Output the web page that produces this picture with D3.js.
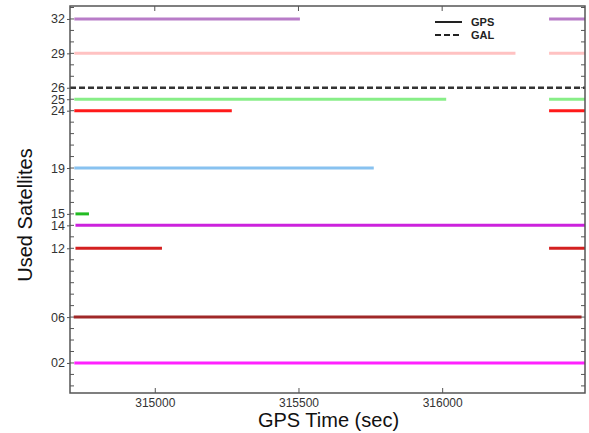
<!DOCTYPE html>
<html>
<head>
<meta charset="utf-8">
<script src="https://cdn.jsdelivr.net/npm/d3@7"></script>
<style>
body { margin:0; background:#fff; }
svg { font-family: Arial, "Liberation Sans", sans-serif; }
</style>
</head>
<body>
<svg id="chart"></svg>
<script>
// satellites shown on the y axis, top to bottom
var satIds = [32, 29, 26, 25, 24, 19, 15, 14, 12, 6, 2];
var satSystem = ["GPS","GPS","GAL","GPS","GPS","GPS","GPS","GPS","GPS","GPS","GPS"];
var satColors = ["#b87cc8","#ffc2c2","#333333","#88ee88","#ff1a1a","#88c2f0",
                 "#22bb22","#cc22dd","#d42020","#a02828","#ff22ff"];
// tracked periods [start, end] in GPS seconds
var satArcs = [
    [[314720, 315505], [316372, 316497]],
    [[314720, 316255], [316372, 316497]],
    [[314705, 316497]],
    [[314720, 316014], [316372, 316497]],
    [[314720, 315268], [316372, 316497]],
    [[314720, 315762]],
    [[314724, 314771]],
    [[314724, 316497]],
    [[314724, 315025], [316372, 316497]],
    [[314718, 316485]],
    [[314720, 316497]]
];
var xTicks = [315000, 315500, 316000];
var legendNames = ["GPS", "GAL"];

var screen = {width:589, height:433};
var plot = {left:70, right:585, top:6, bottom:393};

var svg = d3.select("#chart")
    .attr("width", screen.width)
    .attr("height", screen.height);

var xScale = d3.scaleLinear()
    .domain([314705, 316497])
    .range([plot.left, plot.right]);
var yScale = d3.scaleLinear()
    .domain([-0.62, 33.13])
    .range([plot.bottom, plot.top]);

var axisColor = "#555";

// minor ticks every unit, inside the frame
var minor = d3.range(0, 34);
svg.append("g").selectAll("line.ml")
    .data(minor).enter().append("line")
    .attr("x1", plot.left).attr("x2", plot.left + 4)
    .attr("y1", function(d){ return yScale(d); })
    .attr("y2", function(d){ return yScale(d); })
    .attr("stroke", axisColor).attr("stroke-width", 1);
svg.append("g").selectAll("line.mr")
    .data(minor).enter().append("line")
    .attr("x1", plot.right).attr("x2", plot.right - 4)
    .attr("y1", function(d){ return yScale(d); })
    .attr("y2", function(d){ return yScale(d); })
    .attr("stroke", axisColor).attr("stroke-width", 1);

// left axis labels at satellite ids
var yAxis = d3.axisLeft(yScale)
    .tickValues(satIds)
    .tickSize(3)
    .tickPadding(2)
    .tickFormat(function(d){ return d3.format("02d")(d); });
var gy = svg.append("g")
    .attr("transform", "translate(" + plot.left + ",0)")
    .call(yAxis);
gy.select(".domain").remove();
gy.selectAll("line").attr("stroke", axisColor);
gy.selectAll("text").attr("font-size", 12.5).attr("fill", "#333");

// bottom axis
var xAxis = d3.axisBottom(xScale)
    .tickValues(xTicks)
    .tickSize(-5)
    .tickPadding(5)
    .tickFormat(d3.format("d"));
var gx = svg.append("g")
    .attr("transform", "translate(0," + plot.bottom + ")")
    .call(xAxis);
gx.select(".domain").remove();
gx.selectAll("line").attr("stroke", axisColor);
gx.selectAll("text").attr("font-size", 12).attr("fill", "#333");

// top ticks
svg.append("g").selectAll("line")
    .data(xTicks).enter().append("line")
    .attr("x1", function(d){ return xScale(d); })
    .attr("x2", function(d){ return xScale(d); })
    .attr("y1", plot.top).attr("y2", plot.top + 5)
    .attr("stroke", axisColor);

// satellite arcs
var segs = [];
satIds.forEach(function(id, i){
    satArcs[i].forEach(function(a){
        segs.push({id:id, sys:satSystem[i], color:satColors[i], t0:a[0], t1:a[1]});
    });
});
svg.append("g").selectAll("line")
    .data(segs).enter().append("line")
    .attr("x1", function(d){ return xScale(d.t0); })
    .attr("x2", function(d){ return xScale(d.t1); })
    .attr("y1", function(d){ return yScale(d.id); })
    .attr("y2", function(d){ return yScale(d.id); })
    .attr("stroke", function(d){ return d.color; })
    .attr("stroke-width", function(d){ return d.sys == "GAL" ? 2.5 : 3; })
    .attr("stroke-dasharray", function(d){ return d.sys == "GAL" ? "6,3" : null; });

// frame
svg.append("rect")
    .attr("x", plot.left).attr("y", plot.top)
    .attr("width", plot.right - plot.left)
    .attr("height", plot.bottom - plot.top)
    .attr("fill", "none")
    .attr("stroke", axisColor)
    .attr("stroke-width", 1.5);

// legend
var legend = svg.append("g").attr("transform", "translate(435,22)");
legendNames.forEach(function(name, i){
    legend.append("line")
        .attr("x1", 0).attr("x2", 27)
        .attr("y1", i * 13).attr("y2", i * 13)
        .attr("stroke", "#222").attr("stroke-width", 2)
        .attr("stroke-dasharray", i == 1 ? "6,3" : null);
    legend.append("text")
        .attr("x", 36).attr("y", i * 13 + 4)
        .attr("font-size", 11).attr("font-weight", "bold")
        .attr("fill", "#222")
        .text(name);
});

// axis titles
svg.append("text")
    .attr("x", (plot.left + plot.right) / 2 + 1)
    .attr("y", 427)
    .attr("text-anchor", "middle")
    .attr("font-size", 20).attr("fill", "#111")
    .text("GPS Time (sec)");
svg.append("text")
    .attr("transform", "translate(32,215) rotate(-90)")
    .attr("text-anchor", "middle")
    .attr("font-size", 20).attr("fill", "#111")
    .text("Used Satellites");
</script>
</body>
</html>
